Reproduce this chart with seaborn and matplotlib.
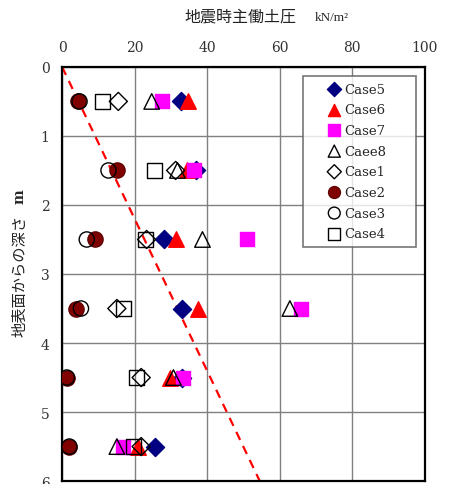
import matplotlib
matplotlib.use("Agg")
import matplotlib.pyplot as plt
import seaborn as sns

# depths of the measurement points (m)
depth = [0.5, 1.5, 2.5, 3.5, 4.5, 5.5]

# seismic active earth pressure per case (kN/m2)
case5 = [32.8, 37.0, 28.2, 33.0, 33.0, 25.6]
case6 = [34.8, 34.3, 31.4, 37.6, 29.8, 21.0]
case7 = [27.5, 36.5, 50.9, 66.0, 33.4, 16.9]
case8 = [24.7, 31.8, 38.7, 62.8, 30.7, 15.1]
case1 = [15.5, 31.3, 23.3, 15.1, 21.8, 21.8]
case2 = [4.5, 15.1, 9.1, 3.8, 1.3, 2.0]
case3 = [4.8, 12.8, 6.8, 5.2, 1.3, 2.0]
case4 = [11.1, 25.4, 22.9, 16.9, 20.6, 19.8]

# design line (dashed red)
line_depth = [0, 6]
line_pressure = [0, 54.5]

series = [
    ("Case5", case5, "D", "#000080", "#000080"),
    ("Case6", case6, "^", "#ff0000", "#ff0000"),
    ("Case7", case7, "s", "#ff00ff", "#ff00ff"),
    ("Caee8", case8, "^", "none", "black"),
    ("Case1", case1, "D", "none", "black"),
    ("Case2", case2, "o", "#800000", "#600000"),
    ("Case3", case3, "o", "none", "black"),
    ("Case4", case4, "s", "none", "black"),
]

sns.set_style("white")
plt.rcParams['font.family'] = ['DejaVu Serif', 'Noto Sans CJK JP']

fig = plt.figure(figsize=(4.5, 4.85), dpi=100)
ax = fig.add_axes([0.138, 0.006, 0.806, 0.854])

sns.lineplot(x=line_pressure, y=line_depth, color="red", linestyle=(0, (4, 3)),
             linewidth=1.6, ax=ax, zorder=2)

for name, vals, mk, fc, ec in series:
    size = {"D": 85, "^": 125, "s": 115, "o": 120}[mk]
    ax.scatter(vals, depth, marker=mk, s=size, facecolors=fc, edgecolors=ec,
               linewidths=1.0, label=name, zorder=3)

ax.set_xlim(0, 100)
ax.set_ylim(6, 0)
ax.set_xticks([0, 20, 40, 60, 80, 100])
ax.set_yticks([0, 1, 2, 3, 4, 5, 6])
ax.xaxis.tick_top()
ax.tick_params(axis="both", length=0, labelsize=10, pad=9, colors="#333333")
ax.grid(True, color="#808080", linewidth=1.0)
for s in ax.spines.values():
    s.set_color("black")
    s.set_linewidth(1.6)

fig.text(0.535, 0.965, "地震時主働土圧", family=['Noto Sans CJK JP'], fontsize=11.5,
         ha="center", va="center", color="#222222")
fig.text(0.70, 0.962, "kN/m²", family=['Liberation Serif'], fontsize=9.5,
         ha="left", va="center")
fig.text(0.044, 0.431, "地表面からの深さ", family=['Noto Sans CJK JP'], fontsize=11,
         rotation=90, ha="center", va="center", color="#222222")
fig.text(0.044, 0.594, "m", fontsize=10, fontweight="bold", rotation=90,
         ha="center", va="center")

leg = ax.legend(loc="upper left", bbox_to_anchor=(0.664, 0.0, 0.311, 0.978),
                mode="expand", borderaxespad=0, frameon=True, fancybox=False,
                edgecolor="#555555", fontsize=9.5, handlelength=3.75,
                handletextpad=-1.1, labelspacing=0.58, borderpad=0.5,
                markerscale=0.78)
leg.get_frame().set_linewidth(1.2)

fig.savefig("out.png", dpi=100)
